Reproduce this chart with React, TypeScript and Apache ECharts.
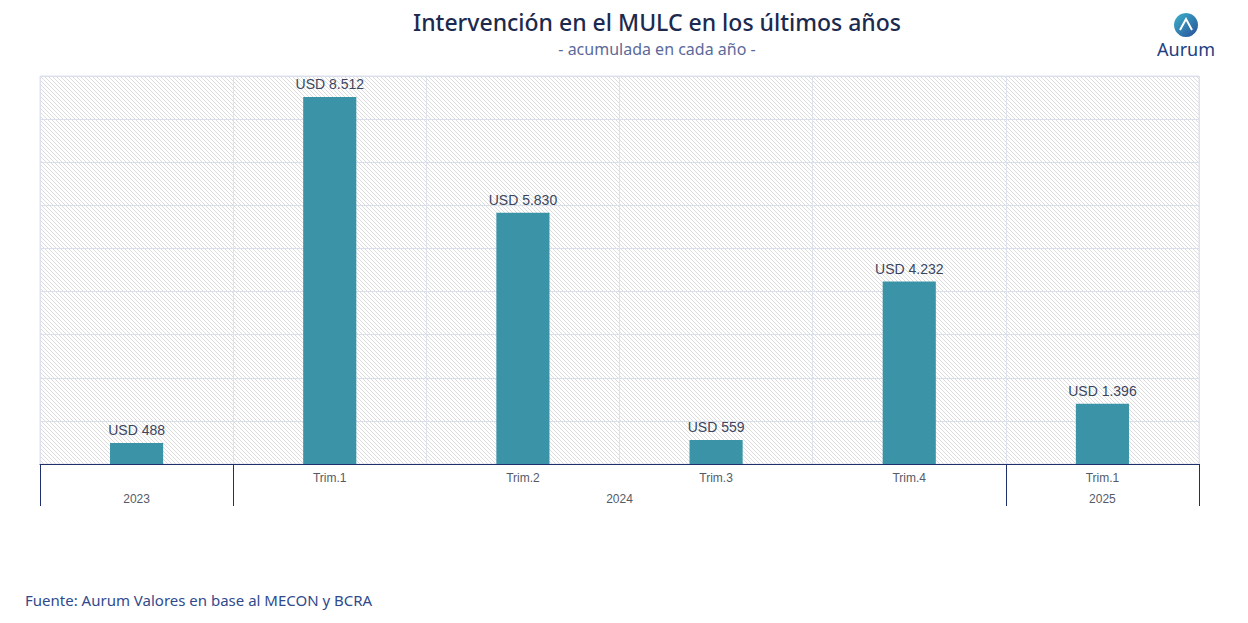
import React, { useEffect, useRef } from "react";
import * as echarts from "echarts";

const categories = ["", "Trim.1", "Trim.2", "Trim.3", "Trim.4", "Trim.1"];
const values = [488, 8512, 5830, 559, 4232, 1396];
const years = ["2023", "2024", "2025"];
const yearLabelPos = [0.5, 3, 5.5];
const yearSeparators = [0, 1, 5, 6];

function makeHatch(): string {
  const c = document.createElement("canvas");
  c.width = 4;
  c.height = 4;
  const ctx = c.getContext("2d");
  if (ctx) {
    ctx.fillStyle = "#ffffff";
    ctx.fillRect(0, 0, 4, 4);
    ctx.strokeStyle = "#dcdcdc";
    ctx.lineWidth = 1;
    ctx.beginPath();
    ctx.moveTo(0, 0);
    ctx.lineTo(4, 4);
    ctx.moveTo(-2, 2);
    ctx.lineTo(2, 6);
    ctx.moveTo(2, -2);
    ctx.lineTo(6, 2);
    ctx.stroke();
  }
  return c.toDataURL();
}

function fmt(v: number): string {
  return "USD " + v.toString().replace(/\B(?=(\d{3})+(?!\d))/g, ".");
}

export default function App() {
  const ref = useRef<HTMLDivElement>(null);
  useEffect(() => {
    if (!ref.current) return;
    const chart = echarts.init(ref.current, null, { renderer: "svg" });
    const hatch = makeHatch();
    const font = "Liberation Sans, Arial, sans-serif";
    chart.setOption({
      animation: false,
      backgroundColor: "#ffffff",
      grid: {
        left: 40,
        right: 49,
        top: 76,
        bottom: 159,
        show: true,
        borderColor: "#dfe3ec",
        borderWidth: 1,
        backgroundColor: { image: hatch, repeat: "repeat" },
      },
      graphic: [
        {
          type: "text",
          x: 657,
          y: 22,
          style: {
            text: "Intervención en el MULC en los últimos años",
            fill: "#1b2a4e",
            font: "500 23px 'Noto Sans', sans-serif",
            align: "center",
            verticalAlign: "middle",
          },
        },
        {
          type: "text",
          x: 657,
          y: 49,
          style: {
            text: "- acumulada en cada año -",
            fill: "#5b6a9a",
            font: "16px 'Noto Sans', sans-serif",
            align: "center",
            verticalAlign: "middle",
          },
        },
        {
          type: "circle",
          shape: { cx: 1186, cy: 25, r: 12 },
          style: {
            fill: new echarts.graphic.LinearGradient(0, 0, 1, 1, [
              { offset: 0, color: "#3bb3c9" },
              { offset: 1, color: "#2a4f9a" },
            ]),
          },
        },
        {
          type: "polyline",
          shape: { points: [[1180, 30], [1186, 19], [1192, 30]] },
          style: { stroke: "#ffffff", lineWidth: 2, fill: "none" },
        },
        {
          type: "text",
          x: 1186,
          y: 49,
          style: {
            text: "Aurum",
            fill: "#23407f",
            font: "18px 'Noto Sans', sans-serif",
            align: "center",
            verticalAlign: "middle",
          },
        },
        {
          type: "text",
          x: 25,
          y: 600,
          style: {
            text: "Fuente: Aurum Valores en base al MECON y BCRA",
            fill: "#2f4a8c",
            font: "15px 'Noto Sans', sans-serif",
            verticalAlign: "middle",
          },
        },
      ],
      xAxis: [
        {
          type: "category",
          data: categories,
          boundaryGap: true,
          axisLine: { show: true, lineStyle: { color: "#1f2f6b", width: 1 } },
          axisTick: { show: false },
          axisLabel: {
            color: "#555b66",
            fontSize: 12,
            fontFamily: font,
            margin: 8,
          },
          splitLine: { show: true, lineStyle: { color: "#dde2ee", width: 1 } },
        },
        {
          type: "value",
          min: 0,
          max: 6,
          position: "bottom",
          axisLine: { show: false },
          splitLine: { show: false },
          axisTick: {
            show: true,
            customValues: yearSeparators,
            length: 42,
            lineStyle: { color: "#1f2f6b", width: 1 },
          },
          axisLabel: {
            show: true,
            customValues: yearLabelPos,
            margin: 29,
            color: "#555b66",
            fontSize: 12,
            fontFamily: font,
            formatter: (v: number) => {
              const i = yearLabelPos.indexOf(v);
              return i >= 0 ? years[i] : "";
            },
          },
        },
      ],
      yAxis: {
        type: "value",
        min: 0,
        max: 9000,
        interval: 1000,
        axisLabel: { show: false },
        axisLine: { show: false },
        axisTick: { show: false },
        splitLine: { show: true, lineStyle: { color: "#d9dfeb", width: 1 } },
      },
      series: [
        {
          type: "bar",
          data: values,
          xAxisIndex: 0,
          barWidth: "27.5%",
          itemStyle: { color: "#3a93a6" },
          label: {
            show: true,
            position: "top",
            distance: 6,
            color: "#3a4560",
            fontSize: 14,
            fontFamily: font,
            formatter: (p: any) => fmt(p.value),
          },
        },
      ],
    });
    return () => chart.dispose();
  }, []);
  return (
    <div
      ref={ref}
      style={{ position: "absolute", left: 0, top: 0, width: 1248, height: 623 }}
    />
  );
}
